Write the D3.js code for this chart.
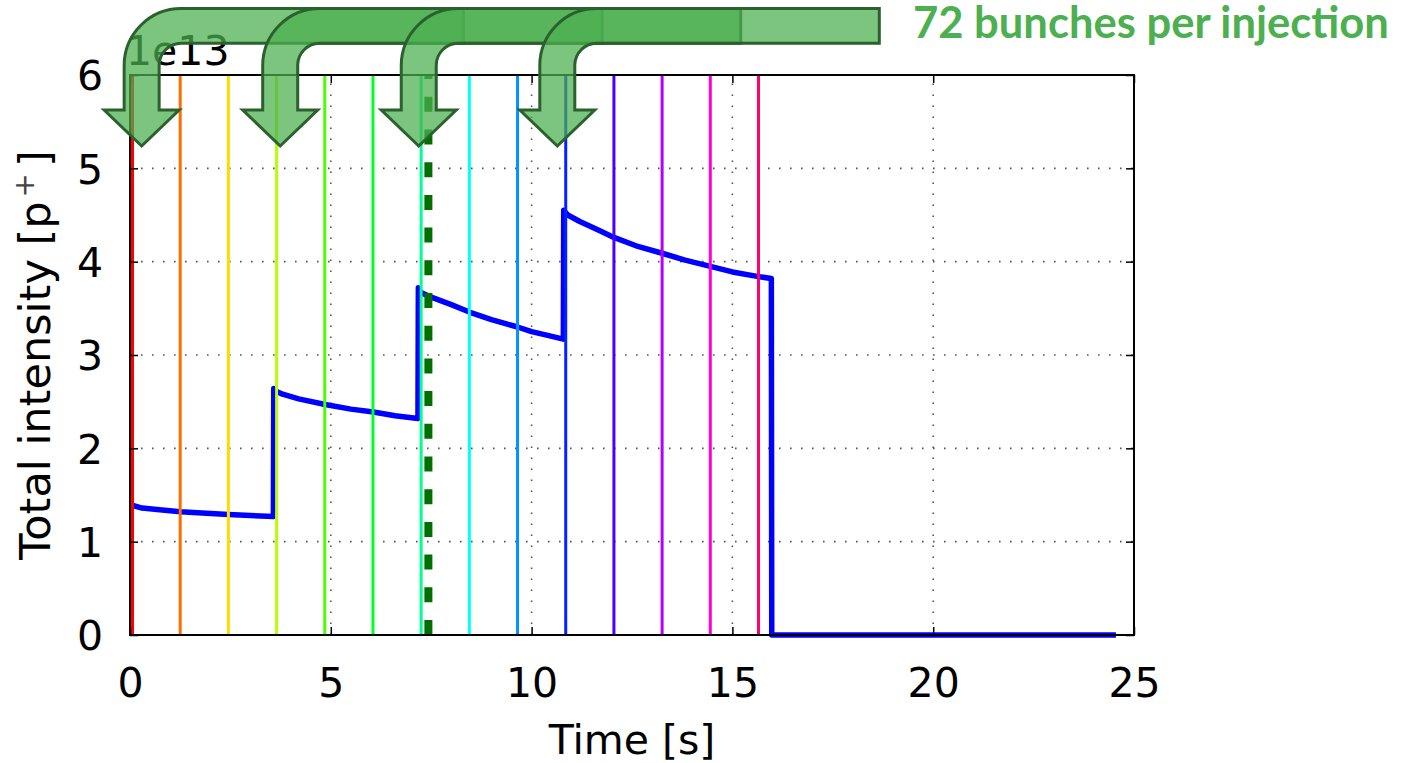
<!DOCTYPE html>
<html>
<head>
<meta charset="utf-8">
<script src="https://cdn.jsdelivr.net/npm/d3@7/dist/d3.min.js"></script>
<style>
  html, body { margin: 0; padding: 0; background: #ffffff; }
  svg { display: block; }
</style>
</head>
<body>
<svg id="chart" width="1402" height="763"></svg>
<script>
// Axis ticks
const xTicks = [0, 5, 10, 15, 20, 25];
const yTicks = [0, 1, 2, 3, 4, 5, 6];
const yGridValues = [1, 2, 3, 4, 5];
const xGridValues = [5, 10, 15, 20];

// Injection / extraction markers (s)
const markerTimes = [0.05, 1.25, 2.45, 3.65, 4.85, 6.05, 7.25, 8.45, 9.65, 10.85, 12.05, 13.25, 14.45, 15.65];
const dashedMarkerTime = 7.43;

// Total beam intensity vs time (units of 1e13 p+)
const curveTime = [
  0.05, 0.3, 0.8, 1.26, 1.9, 2.45, 3.0, 3.57,
  3.58, 3.65, 3.8, 4.2, 4.86, 5.5, 6.06, 6.6, 7.17,
  7.18, 7.24, 7.5, 8.0, 8.45, 9.0, 9.65, 10.0, 10.4, 10.79,
  10.8, 10.9, 11.2, 11.7, 12.05, 12.6, 13.25, 13.8, 14.45, 15.0, 15.65, 15.97,
  15.98, 24.55
];
const curveIntensity = [
  1.39, 1.36, 1.34, 1.32, 1.305, 1.29, 1.28, 1.27,
  2.64, 2.61, 2.58, 2.53, 2.47, 2.42, 2.39, 2.35, 2.32,
  3.72, 3.67, 3.62, 3.54, 3.46, 3.38, 3.30, 3.25, 3.21, 3.17,
  4.55, 4.50, 4.43, 4.33, 4.26, 4.17, 4.09, 4.02, 3.95, 3.89, 3.84, 3.82,
  0.0, 0.0
];

// Bent annotation arrows: tip positions (s) along the time axis
const arrowTipTimes = [0.29, 3.74, 7.19, 10.64];
const annotationText = "72 bunches per injection";

const svg = d3.select("#chart");
const plot = { left: 130, right: 1134, top: 75, bottom: 635 };

const x = d3.scaleLinear().domain([0, 25]).range([plot.left, plot.right]);
const y = d3.scaleLinear().domain([0, 6]).range([plot.bottom, plot.top]);

const font = "'DejaVu Sans', sans-serif";

// Dotted grid
const grid = svg.append("g").attr("class", "grid")
  .attr("stroke", "#555").attr("stroke-width", 1.6)
  .attr("stroke-dasharray", "1.6,9.4").attr("fill", "none");
grid.selectAll("line.gy").data(yGridValues).join("line").attr("class", "gy")
  .attr("x1", plot.left).attr("x2", plot.right)
  .attr("y1", d => y(d)).attr("y2", d => y(d));
grid.selectAll("line.gx").data(xGridValues).join("line").attr("class", "gx")
  .attr("y1", plot.bottom).attr("y2", plot.top)
  .attr("x1", d => x(d)).attr("x2", d => x(d));

// Intensity curve
const line = d3.line().x(d => x(d[0])).y(d => y(d[1]));
svg.append("path")
  .datum(d3.zip(curveTime, curveIntensity))
  .attr("d", line)
  .attr("fill", "none")
  .attr("stroke", "#0000ff")
  .attr("stroke-width", 5.5)
  .attr("stroke-linejoin", "round");

// Coloured marker lines
svg.append("g").selectAll("line").data(markerTimes).join("line")
  .attr("x1", d => x(d)).attr("x2", d => x(d))
  .attr("y1", y(0)).attr("y2", y(6))
  .attr("stroke", (d, i) => d3.hsl(i * 360 / markerTimes.length, 1, 0.5).formatHex())
  .attr("stroke-width", (d, i) => i === 0 ? 4 : 3);

// Dashed marker
svg.append("line")
  .attr("x1", x(dashedMarkerTime)).attr("x2", x(dashedMarkerTime))
  .attr("y1", y(0)).attr("y2", y(6))
  .attr("stroke", "#006e00").attr("stroke-width", 8)
  .attr("stroke-dasharray", "15,17.7");

// Axes (ticks pointing inward on all four sides)
const tickLen = 8;
const axisBottom = d3.axisBottom(x).tickValues(xTicks).tickSizeInner(-tickLen).tickSizeOuter(0).tickPadding(32).tickFormat(d3.format("d"));
const axisTop = d3.axisTop(x).tickValues(xTicks).tickSizeInner(-tickLen).tickSizeOuter(0).tickFormat("");
const axisLeft = d3.axisLeft(y).tickValues(yTicks).tickSizeInner(-tickLen).tickSizeOuter(0).tickPadding(27).tickFormat(d3.format("d"));
const axisRight = d3.axisRight(y).tickValues(yTicks).tickSizeInner(-tickLen).tickSizeOuter(0).tickFormat("");

function styleAxis(g) {
  g.select(".domain").remove();
  g.selectAll(".tick line").attr("stroke", "#000").attr("stroke-width", 1.5);
  g.selectAll(".tick text").attr("fill", "#000").style("font-family", font).style("font-size", "41px");
}
svg.append("g").attr("transform", `translate(0,${plot.bottom})`).call(axisBottom).call(styleAxis)
  .selectAll(".tick text").attr("dy", null).attr("y", 62);
svg.append("g").attr("transform", `translate(0,${plot.top})`).call(axisTop).call(styleAxis);
svg.append("g").attr("transform", `translate(${plot.left},0)`).call(axisLeft).call(styleAxis)
  .selectAll(".tick text").attr("dy", "0.36em");
svg.append("g").attr("transform", `translate(${plot.right},0)`).call(axisRight).call(styleAxis);

// Frame
svg.append("rect")
  .attr("x", plot.left).attr("y", plot.top)
  .attr("width", plot.right - plot.left).attr("height", plot.bottom - plot.top)
  .attr("fill", "none").attr("stroke", "#000").attr("stroke-width", 2);

// Axis labels
svg.append("text")
  .attr("x", (plot.left + plot.right) / 2).attr("y", 754)
  .attr("text-anchor", "middle")
  .style("font-family", font).style("font-size", "41px").attr("fill", "#000")
  .text("Time [s]");

const yLabel = svg.append("text")
  .attr("transform", `translate(50,${(plot.top + plot.bottom) / 2}) rotate(-90)`)
  .attr("text-anchor", "middle")
  .style("font-family", font).style("font-size", "43px").attr("fill", "#000");
yLabel.append("tspan").text("Total intensity [p");
yLabel.append("tspan").attr("dy", -16).style("font-size", "29px").attr("fill", "#444").attr("dx", 4).text("+");
yLabel.append("tspan").attr("dy", 16).attr("dx", 6).text("]");

// Offset text for the y axis
svg.append("text")
  .attr("x", 126).attr("y", 65)
  .style("font-family", font).style("font-size", "41px").attr("fill", "#000")
  .text("1e13");

// Bent arrows
const shaftHalf = 17.5, headHalf = 37.5;
const bandTop = 8.5, bandBottom = 43.3;
const headBase = 110, tipY = 146;
const outerR = 57, innerR = 22, bandLength = 322;

function arrowPath(tx) {
  const p = d3.path();
  p.moveTo(tx, tipY);
  p.lineTo(tx + headHalf, headBase);
  p.lineTo(tx + shaftHalf, headBase);
  p.lineTo(tx + shaftHalf, bandBottom + innerR);
  p.arcTo(tx + shaftHalf, bandBottom, tx + shaftHalf + innerR, bandBottom, innerR);
  p.lineTo(tx + bandLength, bandBottom);
  p.lineTo(tx + bandLength, bandTop);
  p.lineTo(tx - shaftHalf + outerR, bandTop);
  p.arcTo(tx - shaftHalf, bandTop, tx - shaftHalf, bandTop + outerR, outerR);
  p.lineTo(tx - shaftHalf, headBase);
  p.lineTo(tx - headHalf, headBase);
  p.closePath();
  return p.toString();
}

svg.append("g").selectAll("path").data(arrowTipTimes).join("path")
  .attr("d", d => arrowPath(x(d)))
  .attr("fill", "#4caf50").attr("fill-opacity", 0.73)
  .attr("stroke", "#2a612c").attr("stroke-width", 3)
  .attr("stroke-linejoin", "miter");

// Annotation text, fitted to its slot at the right of the arrows
const note = svg.append("text")
  .attr("x", 913).attr("y", 38)
  .style("font-family", "Lato, 'Open Sans', sans-serif").style("font-weight", "bold")
  .style("font-size", "40px").attr("fill", "#4caf50")
  .text(annotationText);
const targetWidth = 476;
const w = note.node().getComputedTextLength();
note.style("font-size", (40 * targetWidth / w).toFixed(2) + "px");
</script>
</body>
</html>
